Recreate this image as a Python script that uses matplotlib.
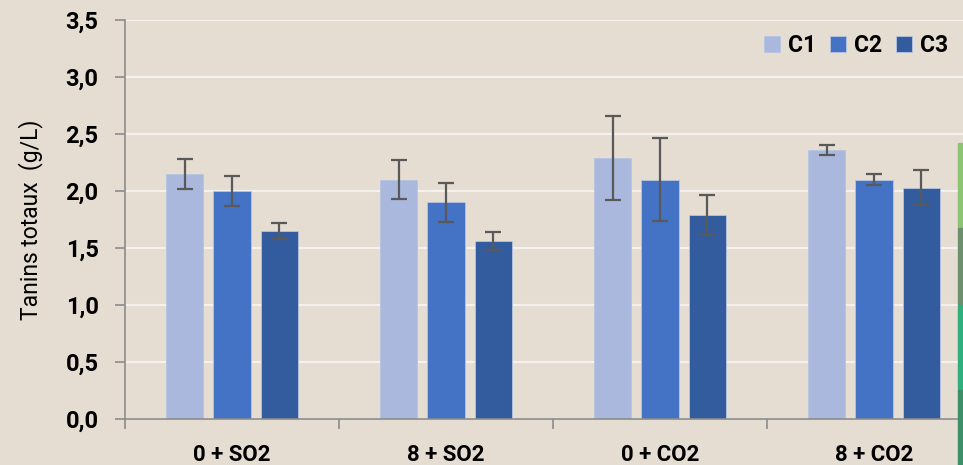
import numpy as np
import matplotlib.pyplot as plt
from matplotlib.patches import Rectangle

categories = ['0 + SO2', '8 + SO2', '0 + CO2', '8 + CO2']
series = ['C1', 'C2', 'C3']
c1 = [2.15, 2.10, 2.29, 2.36]
c2 = [2.00, 1.90, 2.10, 2.10]
c3 = [1.65, 1.56, 1.79, 2.03]
c1_err = [0.13, 0.17, 0.365, 0.04]
c2_err = [0.13, 0.17, 0.365, 0.045]
c3_err = [0.07, 0.08, 0.175, 0.155]
yticks = [0.0, 0.5, 1.0, 1.5, 2.0, 2.5, 3.0, 3.5]

colors = ['#A9B8DC', '#4472C4', '#335C9F']
bg = '#E5DCD2'

plt.rcParams['font.family'] = ['Roboto', 'DejaVu Sans']

fig = plt.figure(figsize=(9.63, 4.65), dpi=100, facecolor=bg)
ax = fig.add_axes([125 / 963, 1 - 419 / 465, 856 / 963, 399 / 465])
ax.set_facecolor(bg)

x = np.arange(len(categories))
w = 0.173
step = 0.22
for i, (vals, errs) in enumerate(zip([c1, c2, c3], [c1_err, c2_err, c3_err])):
    ax.bar(x + (i - 1) * step, vals, w, color=colors[i], label=series[i],
           edgecolor='#B7C4E0', linewidth=0.6, zorder=2)
    ax.errorbar(x + (i - 1) * step, vals, yerr=errs, fmt='none',
                ecolor='#595959', elinewidth=1.6, capsize=5.5, capthick=1.6, zorder=3)

ax.set_xlim(-0.5, 3.5)
ax.set_ylim(0, 3.5)
ax.set_yticks(yticks)
ax.set_yticklabels([f'{v:.1f}'.replace('.', ',') for v in yticks],
                   fontsize=17, fontweight='bold')
ax.yaxis.grid(True, color='#F4F1EE', linewidth=1.6, zorder=0)
ax.set_axisbelow(True)

ax.set_xticks(x)
ax.set_xticklabels(categories, fontsize=16, fontweight='bold')
ax.set_xticks(np.arange(-0.5, 4.0, 1.0), minor=True)
ax.tick_params(axis='x', which='major', length=0, pad=18)
ax.tick_params(axis='x', which='minor', length=7, color='#8C8C8C', width=1.2)
ax.tick_params(axis='y', length=7, color='#8C8C8C', width=1.2, pad=12)

for s in ['top', 'right']:
    ax.spines[s].set_visible(False)
for s in ['left', 'bottom']:
    ax.spines[s].set_color('#8C8C8C')
    ax.spines[s].set_linewidth(1.2)

ax.set_ylabel('Tanins totaux  (g/L)', fontsize=16.5, labelpad=16)

leg = ax.legend(loc='upper right', bbox_to_anchor=(0.978, 1.0), ncol=3,
                frameon=False, prop={'weight': 'bold', 'size': 16.5},
                handlelength=0.7, handleheight=0.7, handletextpad=0.35,
                columnspacing=0.6, borderpad=0.1)

# green strip at the right edge of the screenshot
for y0, y1, col in [(143, 228, '#8CC474'), (228, 305, '#6E8F6E'),
                    (305, 390, '#2FAE7E'), (390, 465, '#3D8F6A')]:
    fig.patches.append(Rectangle((958 / 963, 1 - y1 / 465), 5 / 963, (y1 - y0) / 465,
                                 transform=fig.transFigure, color=col, zorder=5))

plt.savefig('out.png', dpi=100, facecolor=bg)
